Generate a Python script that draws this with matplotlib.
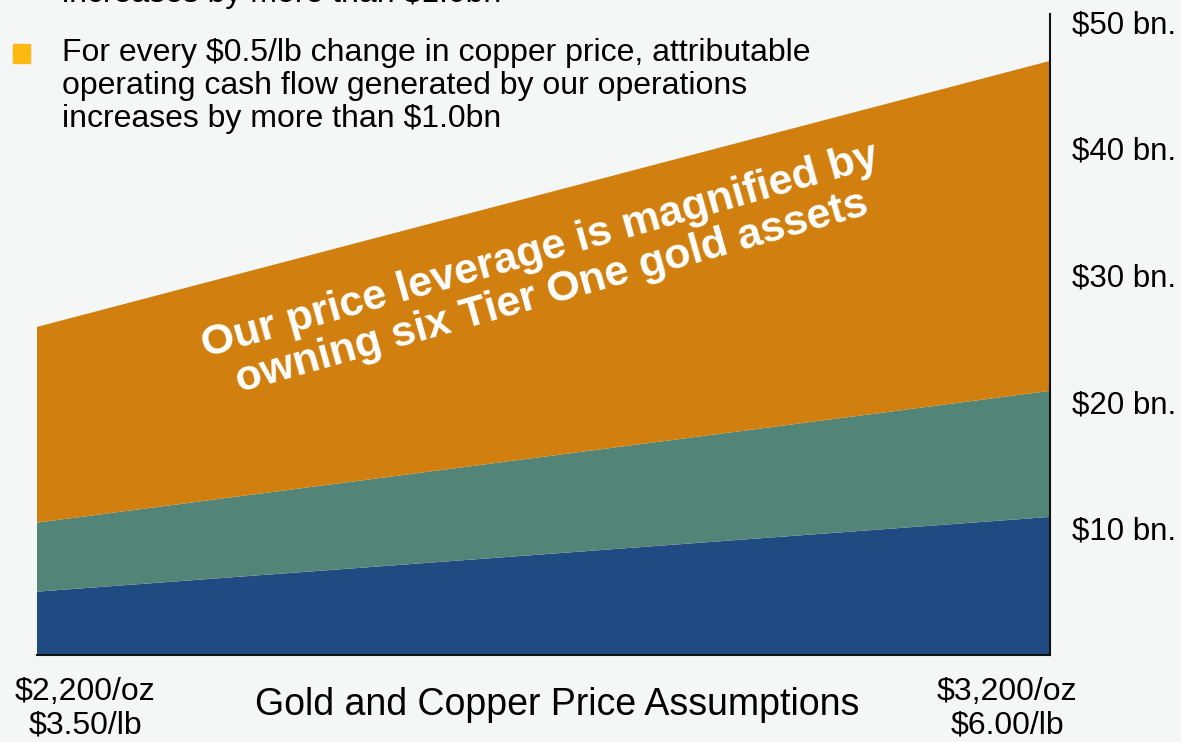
import matplotlib.pyplot as plt
import numpy as np

plt.rcParams['font.family'] = ['Liberation Sans', 'DejaVu Sans']

# price scenarios (low / high)
x_pos = [0, 1]
gold_labels = ['$2,200/oz\n$3.50/lb', '$3,200/oz\n$6.00/lb']

# stacked layers, $ bn
blue_layer = [5.0, 10.9]
green_layer = [5.45, 9.95]
orange_layer = [15.45, 26.05]

y_ticks = [10, 20, 30, 40, 50]
y_tick_labels = ['$10 bn.', '$20 bn.', '$30 bn.', '$40 bn.', '$50 bn.']

bg = '#F5F7F6'
c_blue = '#1F4A82'
c_green = '#528577'
c_orange = '#D18010'
c_bullet = '#FDB913'

fig = plt.figure(figsize=(11.81, 7.42), dpi=100)
fig.patch.set_facecolor(bg)
ax = fig.add_axes([37 / 1181, 87 / 742, 1013 / 1181, 641 / 742])
ax.set_facecolor(bg)

ax.stackplot(x_pos, blue_layer, green_layer, orange_layer,
             colors=[c_blue, c_green, c_orange], linewidth=0)

ax.set_xlim(0, 1)
ax.set_ylim(0, 50.6)
ax.yaxis.tick_right()
ax.set_yticks(y_ticks)
ax.set_yticklabels(y_tick_labels, fontsize=22.5)
ax.tick_params(axis='y', length=0, pad=16)
ax.set_xticks([])
for s in ['left', 'top']:
    ax.spines[s].set_visible(False)
ax.spines['right'].set_color('#111111')
ax.spines['bottom'].set_color('#111111')
ax.spines['right'].set_linewidth(1.5)
ax.spines['bottom'].set_linewidth(1.5)

# bottom labels
fig.text(85 / 1181, 1 - 709 / 742, gold_labels[0], ha='center', va='center',
         fontsize=23, linespacing=1.15)
fig.text(1007 / 1181, 1 - 709 / 742, gold_labels[1], ha='center', va='center',
         fontsize=23, linespacing=1.15)
fig.text(557 / 1181, 1 - 705 / 742, 'Gold and Copper Price Assumptions',
         ha='center', va='center', fontsize=27)

# bullet text at top (previous bullet, cut off by the page edge)
fig.text(62 / 1181, 1 - (-6) / 742, 'increases by more than $1.0bn',
         ha='left', va='center', fontsize=23)
fig.text(62 / 1181, 1 - 86 / 742,
         'For every $0.5/lb change in copper price, attributable\n'
         'operating cash flow generated by our operations\n'
         'increases by more than $1.0bn',
         ha='left', va='center', fontsize=23, linespacing=1.15)
fig.patches.append(plt.Rectangle((13 / 1181, 1 - 63 / 742), 17 / 1181, 19 / 742,
                                 transform=fig.transFigure, color=c_bullet))

# rotated annotation
fig.text(546 / 1181, 1 - 272 / 742,
         'Our price leverage is magnified by\nowning six Tier One gold assets',
         ha='center', va='center', fontsize=31, fontweight='bold', color='white',
         rotation=15.8, rotation_mode='anchor', linespacing=1.08)

fig.savefig('out.png', dpi=100, facecolor=fig.get_facecolor())
